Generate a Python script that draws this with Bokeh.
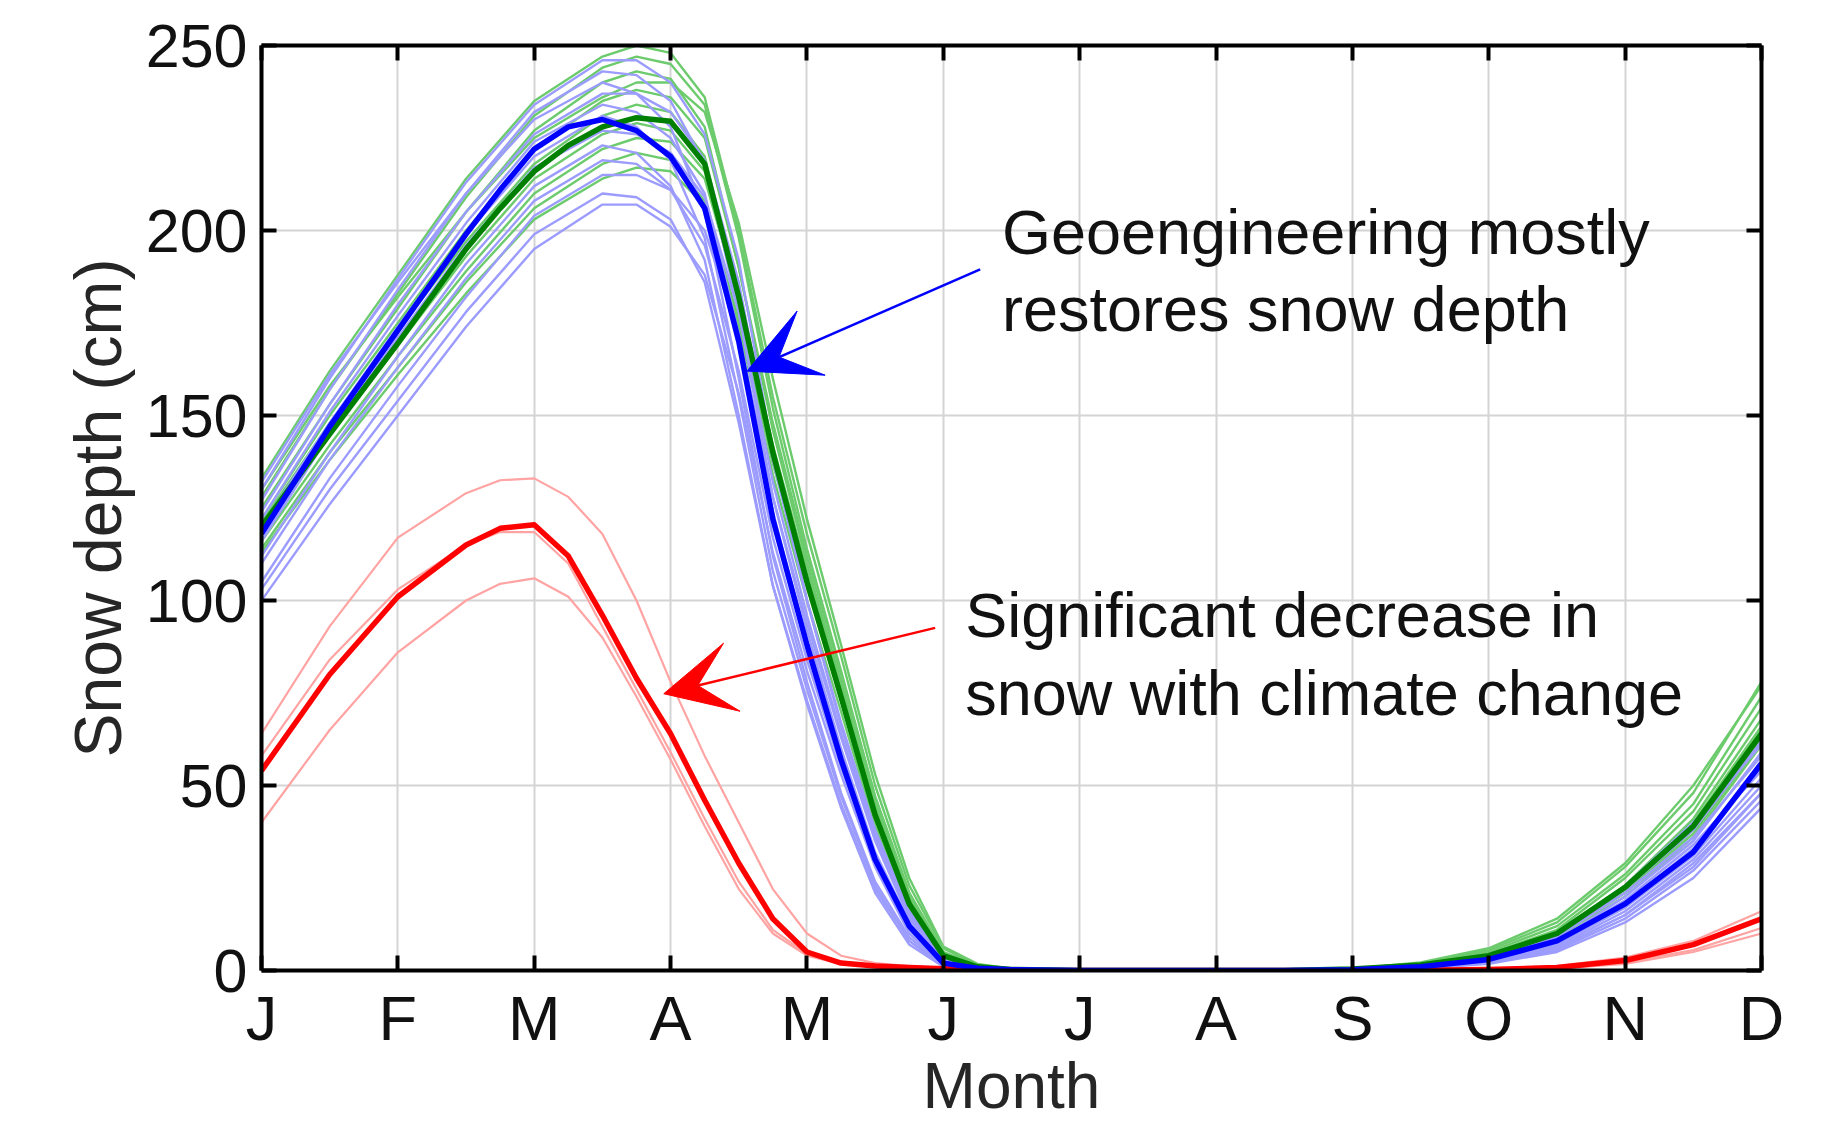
from bokeh.plotting import figure
from bokeh.models import Range1d, LinearAxis, FixedTicker, Arrow, VeeHead, Grid
from bokeh.embed import file_html
from bokeh.resources import INLINE
from bokeh.core.properties import value

# ---------------- data ----------------
MONTH_LABELS = ["J", "F", "M", "A", "M", "J", "J", "A", "S", "O", "N", "D"]
MONTH_TICKS = list(range(12))
DEPTH_TICKS = [0, 50, 100, 150, 200, 250]

# month positions (0 = Jan ... 11 = Dec) at which values were read
X_FINE = [0, 0.5, 1, 1.5, 1.75, 2, 2.25, 2.5, 2.75, 3, 3.25, 3.5, 3.75, 4, 4.25, 4.5, 4.75,
          5, 5.25, 5.5, 6, 6.5, 7, 7.5, 8, 8.5, 9, 9.5, 10, 10.5, 11]
X_ENS = [0, 0.5, 1, 1.5, 2, 2.5, 2.75, 3, 3.25, 3.5, 3.75, 4, 4.25, 4.5, 4.75,
         5, 5.25, 5.5, 6, 6.5, 7, 7.5, 8, 8.5, 9, 9.5, 10, 10.5, 11]

# ensemble means (thick lines)
geo_mean = [118, 147, 173, 199, 211, 222, 228, 230, 227, 220, 206, 170, 122, 88, 57, 30, 12,
            2, 0.6, 0.2, 0, 0, 0, 0, 0.2, 1, 3, 8, 18, 32, 56]
ctrl_mean = [120, 145, 169.5, 195, 206, 216, 223, 228, 230.5, 229.5, 218, 182, 140, 105, 74, 42, 18,
             4, 1, 0.3, 0, 0, 0, 0, 0.4, 1.5, 4, 10, 22.5, 39, 64]
cc_mean = [54, 80, 101, 115, 119.5, 120.5, 112, 96, 79, 64, 46, 29, 14, 5, 2, 1.2, 0.8,
           0.5, 0.3, 0.1, 0, 0, 0, 0, 0, 0.1, 0.3, 0.8, 2.7, 7, 14]

# climate-change members (on X_FINE)
cc_members = [
    [64, 93, 117, 129, 132.5, 133, 128, 118, 100, 78, 58, 40, 22, 10, 4, 2, 1.2,
     0.7, 0.4, 0.2, 0, 0, 0, 0, 0, 0.2, 0.5, 1.2, 3.5, 8, 16],
    [40, 65, 86, 100, 104.5, 106, 101, 90, 74, 57, 39, 22, 10, 4, 1.8, 1, 0.6,
     0.3, 0.2, 0.1, 0, 0, 0, 0, 0, 0, 0.2, 0.5, 1.8, 5, 10],
    [58, 84, 103, 115, 118.5, 118.5, 110, 93, 76, 59, 41, 24, 11, 4.5, 2, 1.1, 0.7,
     0.4, 0.2, 0.1, 0, 0, 0, 0, 0, 0.1, 0.3, 0.7, 2.2, 5.5, 11.5],
]

# geoengineering members (on X_ENS)
geo_members = [
    [130, 160, 187, 213, 234, 246, 246, 240, 226, 192, 140, 100, 66, 37, 15, 3, 1, 0.3, 0, 0, 0, 0, 0.3, 1.2, 4, 9, 22, 38, 62],
    [127, 157, 184, 210, 232, 243, 242, 235, 218, 178, 128, 92, 60, 32, 13, 2.5, 0.8, 0.2, 0, 0, 0, 0, 0.2, 1, 3.5, 8, 20, 35, 59],
    [132, 161, 186, 210, 230, 240, 237, 228, 205, 160, 112, 78, 48, 24, 9, 1.5, 0.5, 0.1, 0, 0, 0, 0, 0.2, 0.8, 3, 7, 17, 31, 52],
    [124, 153, 180, 205, 226, 237, 237, 232, 219, 186, 138, 100, 67, 38, 16, 3.5, 1, 0.3, 0, 0, 0, 0, 0.3, 1.1, 4, 10, 23, 40, 61],
    [122, 151, 177, 202, 224, 234, 232, 225, 210, 172, 124, 89, 58, 31, 12, 2, 0.6, 0.2, 0, 0, 0, 0, 0.2, 0.9, 3, 7.5, 18, 33, 55],
    [120, 148, 174, 199, 220, 231, 228, 219, 198, 155, 108, 76, 47, 23, 8, 1.2, 0.4, 0.1, 0, 0, 0, 0, 0.1, 0.6, 2.2, 6, 15, 28, 48],
    [116, 145, 171, 196, 217, 227, 226, 221, 209, 178, 132, 96, 64, 36, 15, 3, 0.9, 0.3, 0, 0, 0, 0, 0.2, 1, 3.6, 9, 21, 36, 58],
    [112, 140, 166, 191, 212, 223, 221, 212, 192, 150, 104, 72, 44, 21, 7, 1, 0.3, 0.1, 0, 0, 0, 0, 0.1, 0.5, 2, 5.5, 14, 27, 46],
    [110, 138, 163, 187, 208, 219, 218, 211, 196, 162, 117, 84, 55, 29, 11, 2, 0.6, 0.2, 0, 0, 0, 0, 0.2, 0.7, 2.6, 6.5, 16, 30, 50],
    [105, 133, 158, 182, 204, 215, 215, 211, 200, 172, 128, 94, 63, 35, 14, 3, 0.8, 0.2, 0, 0, 0, 0, 0.2, 0.9, 3.2, 8, 19, 34, 54],
    [103, 130, 154, 178, 199, 210, 209, 203, 186, 148, 104, 73, 45, 22, 8, 1.2, 0.4, 0.1, 0, 0, 0, 0, 0.1, 0.5, 1.8, 5, 13, 25, 44],
    [100, 126, 150, 174, 195, 207, 207, 201, 188, 156, 113, 81, 53, 28, 10, 1.8, 0.5, 0.1, 0, 0, 0, 0, 0.1, 0.6, 2.4, 6, 15, 29, 48],
]

# control (present-day) members (on X_ENS)
ctrl_members = [
    [133, 162, 188, 214, 235, 247, 250, 248, 236, 200, 155, 118, 85, 50, 23, 6, 1.5, 0.4, 0, 0, 0, 0, 0.5, 2, 5.5, 13, 28, 48, 78],
    [128, 157, 183, 209, 231, 244, 247, 245, 234, 198, 152, 114, 81, 47, 21, 5, 1.3, 0.4, 0, 0, 0, 0, 0.4, 1.8, 5, 12, 26, 45, 74],
    [125, 153, 179, 205, 227, 240, 243, 241, 228, 190, 146, 110, 78, 45, 20, 4.5, 1.2, 0.3, 0, 0, 0, 0, 0.4, 1.6, 4.5, 11, 25, 43, 71],
    [122, 150, 175, 200, 222, 235, 238, 236, 225, 190, 148, 112, 80, 47, 21, 5, 1.3, 0.3, 0, 0, 0, 0, 0.4, 1.5, 4.2, 10.5, 23, 41, 68],
    [121, 148, 173, 197, 218, 231, 234, 232, 220, 183, 140, 104, 73, 41, 17, 4, 1, 0.3, 0, 0, 0, 0, 0.3, 1.4, 4, 10, 22, 39, 65],
    [118, 145, 169, 193, 214, 226, 229, 227, 216, 180, 139, 104, 73, 42, 18, 4, 1, 0.3, 0, 0, 0, 0, 0.3, 1.3, 3.8, 9.5, 21, 38, 63],
    [116, 142, 166, 189, 210, 222, 225, 224, 214, 182, 142, 108, 77, 45, 20, 4.5, 1.2, 0.3, 0, 0, 0, 0, 0.3, 1.4, 4, 10, 22, 40, 66],
    [114, 140, 163, 186, 206, 218, 221, 219, 208, 174, 134, 100, 70, 39, 16, 3.5, 0.9, 0.2, 0, 0, 0, 0, 0.3, 1.2, 3.5, 9, 20, 36, 61],
    [113, 138, 161, 183, 203, 214, 217, 216, 207, 176, 137, 104, 74, 43, 19, 4, 1, 0.3, 0, 0, 0, 0, 0.3, 1.3, 3.8, 9.5, 21, 37, 62],
    [130, 158, 182, 205, 225, 236, 240, 240, 232, 202, 160, 122, 88, 53, 25, 6.5, 1.8, 0.5, 0, 0, 0, 0, 0.5, 2.2, 6, 14, 29, 50, 77],
]

ANNOT_GEO = ["Geoengineering mostly", "restores snow depth"]
ANNOT_CC = ["Significant decrease in", "snow with climate change"]

# ---------------- styling ----------------
FONT = "Liberation Sans"
BLUE, GREEN, RED = "#0000ff", "#008000", "#ff0000"
LBLUE, LGREEN, LRED = "#9c9cff", "#6ccb6c", "#ffa3a3"

p = figure(width=1841, height=1126, output_backend="svg", toolbar_location=None,
           x_range=Range1d(0, 11), y_range=Range1d(0, 250),
           x_axis_type=None, y_axis_type=None,
           min_border_left=261, min_border_right=80, min_border_top=45, min_border_bottom=156)
p.outline_line_color = None
p.background_fill_color = "white"
p.border_fill_color = "white"

xt = FixedTicker(ticks=MONTH_TICKS)
yt = FixedTicker(ticks=DEPTH_TICKS)

bottom_ax = LinearAxis(ticker=xt, axis_label="Month",
                       major_label_overrides={i: MONTH_LABELS[i] for i in MONTH_TICKS})
left_ax = LinearAxis(ticker=yt, axis_label="Snow depth (cm)")
right_ax = LinearAxis(ticker=yt, major_label_overrides={t: "" for t in DEPTH_TICKS})
top_ax = LinearAxis(ticker=xt, major_label_overrides={t: "" for t in MONTH_TICKS})

for ax in [bottom_ax, left_ax, right_ax, top_ax]:
    ax.axis_line_color = "black"
    ax.axis_line_width = 4
    ax.major_tick_in = 15
    ax.major_tick_out = 0
    ax.major_tick_line_width = 4
    ax.major_tick_line_color = "black"
    ax.minor_tick_line_color = None
    ax.major_label_text_font = FONT
    ax.major_label_text_color = "#111111"
    ax.axis_label_text_font = FONT
    ax.axis_label_text_font_style = "normal"
    ax.axis_label_text_color = "#262626"

for ax in [right_ax, top_ax]:
    ax.major_label_standoff = 0
    ax.major_label_text_font_size = "10px"

bottom_ax.major_label_text_font_size = "63px"
bottom_ax.major_label_standoff = 12
bottom_ax.axis_label_text_font_size = "64px"
bottom_ax.axis_label_standoff = -6
left_ax.major_label_text_font_size = "61px"
left_ax.major_label_standoff = 14
left_ax.axis_label_text_font_size = "66px"
left_ax.axis_label_standoff = 8

p.add_layout(bottom_ax, "below")
p.add_layout(left_ax, "left")
p.add_layout(right_ax, "right")
p.add_layout(top_ax, "above")

p.add_layout(Grid(dimension=0, ticker=xt, grid_line_color="#d4d4d4", grid_line_width=2))
p.add_layout(Grid(dimension=1, ticker=yt, grid_line_color="#d4d4d4", grid_line_width=2))

# ---------------- lines ----------------
p.multi_line(xs=[X_ENS] * len(ctrl_members), ys=ctrl_members, line_color=LGREEN, line_width=2.4,
             line_join="round")
p.multi_line(xs=[X_ENS] * len(geo_members), ys=geo_members, line_color=LBLUE, line_width=2.4,
             line_join="round")
p.multi_line(xs=[X_FINE] * len(cc_members), ys=cc_members, line_color=LRED, line_width=2.2,
             line_join="round")
p.line(X_FINE, cc_mean, line_color=RED, line_width=5.5, line_join="round")
p.line(X_FINE, ctrl_mean, line_color=GREEN, line_width=5.5, line_join="round")
p.line(X_FINE, geo_mean, line_color=BLUE, line_width=5.5, line_join="round")

# ---------------- annotations ----------------
p.add_layout(Arrow(end=VeeHead(size=70, fill_color=BLUE, line_color=BLUE),
                   x_start=5.27, y_start=189.5, x_end=3.56, y_end=162,
                   line_color=BLUE, line_width=2.5))
p.add_layout(Arrow(end=VeeHead(size=70, fill_color=RED, line_color=RED),
                   x_start=4.94, y_start=92.6, x_end=2.95, y_end=74.8,
                   line_color=RED, line_width=2.5))

p.text(x=[5.43, 5.43], y=[199.6, 178.8], text=ANNOT_GEO,
       text_font=value(FONT), text_font_size=value("63px"), text_color="#111111",
       text_baseline="alphabetic", text_align="left")
p.text(x=[5.16, 5.16], y=[96.0, 75.1], text=ANNOT_CC,
       text_font=value(FONT), text_font_size=value("63px"), text_color="#111111",
       text_baseline="alphabetic", text_align="left")

open("out.html", "w").write(file_html(p, INLINE))
